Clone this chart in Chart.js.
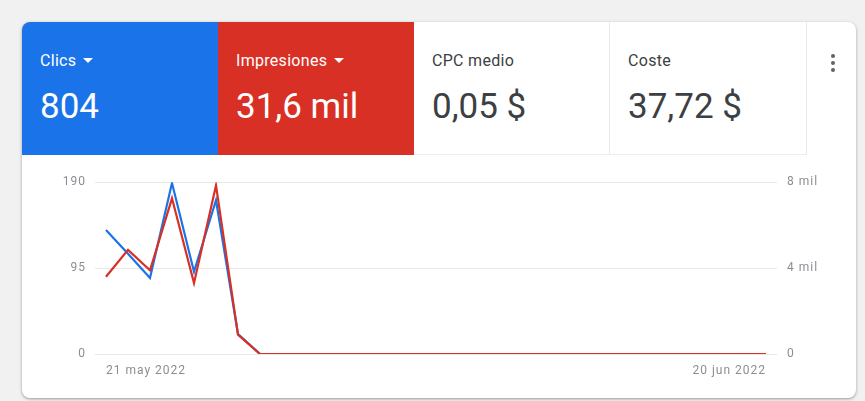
<!DOCTYPE html>
<html>
<head>
<meta charset="utf-8">
<script src="https://cdn.jsdelivr.net/npm/chart.js@4"></script>
<style>
  body { margin: 0; background: #f1f1f1; font-family: Roboto, sans-serif; }
  .card {
    position: absolute; left: 22px; top: 22px; width: 834px; height: 376px;
    background: #fff; border-radius: 8px; overflow: hidden;
    box-shadow: 0 1px 2px rgba(60,64,67,0.3), 0 1px 3px 1px rgba(60,64,67,0.15);
  }
  .tile { position: absolute; top: 0; height: 133px; width: 196px; box-sizing: border-box; }
  .tile .name { position: absolute; left: 18px; top: 29px; font-size: 16px; letter-spacing: 0.3px; }
  .tile .val { position: absolute; left: 18px; top: 64px; font-size: 35px; }
  .blue { left: 0; background: #1a73e8; color: #fff; }
  .red { left: 196px; background: #d93025; color: #fff; }
  .white { color: #3c4043; border-right: 1px solid #e8e8e8; border-bottom: 1px solid #ececec; }
  .white .name { color: #3c4043; }
  .tri { display: inline-block; width: 0; height: 0; margin-left: 7px; vertical-align: 3px;
    border-left: 5px solid transparent; border-right: 5px solid transparent; border-top: 5px solid #fff; }
  .dots { position: absolute; left: 809px; top: 32px; width: 4px; }
  .dots div { width: 4px; height: 4px; border-radius: 2px; background: #5f6368; margin-bottom: 3px; }
  #wrap { position: absolute; left: 18px; top: 143px; width: 790px; height: 215px; }
</style>
</head>
<body>
<div class="card">
  <div class="tile blue"><div class="name">Clics<span class="tri"></span></div><div class="val">804</div></div>
  <div class="tile red"><div class="name">Impresiones<span class="tri"></span></div><div class="val">31,6 mil</div></div>
  <div class="tile white" style="left:392px"><div class="name">CPC medio</div><div class="val">0,05 $</div></div>
  <div class="tile white" style="left:588px;width:197px"><div class="name">Coste</div><div class="val">37,72 $</div></div>
  <div class="dots"><div></div><div></div><div></div></div>
  <div id="wrap"><canvas id="chart"></canvas></div>
</div>
<script>
const days = [
  '21 may 2022', '22 may', '23 may', '24 may', '25 may', '26 may', '27 may', '28 may',
  '29 may', '30 may', '31 may', '1 jun', '2 jun', '3 jun', '4 jun', '5 jun', '6 jun',
  '7 jun', '8 jun', '9 jun', '10 jun', '11 jun', '12 jun', '13 jun', '14 jun', '15 jun',
  '16 jun', '17 jun', '18 jun', '19 jun', '20 jun 2022'
];
const clicks = [137, 111, 84, 189, 91, 170, 22, 0, 0, 0, 0, 0, 0, 0, 0, 0, 0, 0, 0, 0, 0, 0, 0, 0, 0, 0, 0, 0, 0, 0, 0];
const impressions = [3600, 4850, 3900, 7250, 3300, 7850, 900, 0, 0, 0, 0, 0, 0, 0, 0, 0, 0, 0, 0, 0, 0, 0, 0, 0, 0, 0, 0, 0, 0, 0, 0];
const leftTicks = [0, 95, 190];
const rightTicks = [0, 4000, 8000];
const rightTickLabels = ['0', '4 mil', '8 mil'];

const tickFont = { family: 'Roboto', size: 12 };
const tickColor = '#8a8e92';

// the reference labels are drawn a bit wider than plain Roboto
const spacing = {
  id: 'spacing',
  beforeUpdate: c => { c.ctx.letterSpacing = '1px'; },
  beforeDraw: c => { c.ctx.letterSpacing = '1px'; }
};

const ctx = document.getElementById('chart').getContext('2d');

const chart = new Chart(ctx, {
  type: 'line',
  data: {
    labels: days,
    datasets: [
      {
        label: 'Impresiones',
        data: impressions,
        yAxisID: 'y1',
        borderColor: '#d93025',
        borderWidth: 2.2,
        pointRadius: 0,
        tension: 0,
        order: 0
      },
      {
        label: 'Clics',
        data: clicks,
        yAxisID: 'y',
        borderColor: '#1a73e8',
        borderWidth: 2.2,
        pointRadius: 0,
        tension: 0,
        order: 1
      }
    ]
  },
  plugins: [spacing],
  options: {
    responsive: true,
    maintainAspectRatio: false,
    animation: false,
    layout: { padding: { top: 6, bottom: 0 } },
    plugins: { legend: { display: false }, tooltip: { enabled: false } },
    scales: {
      x: {
        offset: true,
        grid: { display: false, drawTicks: false },
        border: { display: false },
        afterFit: s => { s.height = 26; },
        ticks: {
          autoSkip: false,
          maxRotation: 0,
          align: 'inner',
          padding: 10,
          color: tickColor,
          font: tickFont,
          callback: (v, i) => (i === 0 || i === days.length - 1) ? days[i] : ''
        }
      },
      y: {
        position: 'left',
        min: 0,
        max: 190,
        afterBuildTicks: s => { s.ticks = leftTicks.map(v => ({ value: v })); },
        afterFit: s => { s.width = 55; },
        grid: { color: '#e8e8e8', drawTicks: false },
        border: { display: false },
        ticks: { padding: 9, color: tickColor, font: tickFont }
      },
      y1: {
        position: 'right',
        min: 0,
        max: 8000,
        afterBuildTicks: s => { s.ticks = rightTicks.map(v => ({ value: v })); },
        afterFit: s => { s.width = 53; },
        grid: { display: false, drawTicks: false },
        border: { display: false },
        ticks: {
          padding: 10,
          color: tickColor,
          font: tickFont,
          callback: v => rightTickLabels[rightTicks.indexOf(v)]
        }
      }
    }
  }
});
</script>
</body>
</html>
